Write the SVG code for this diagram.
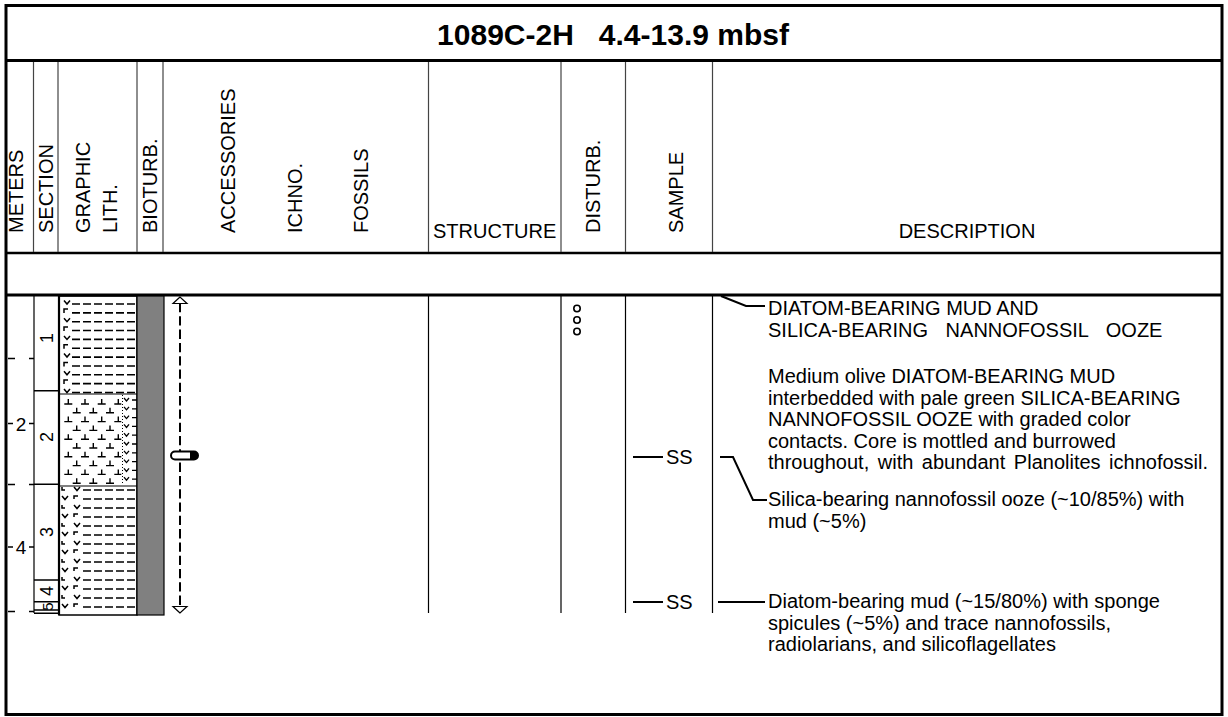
<svg xmlns="http://www.w3.org/2000/svg" width="1228" height="717" viewBox="0 0 1228 717">
<style>
.t{font-family:"Liberation Sans",Arial,sans-serif;font-size:20px;fill:#000}
.ttl{font-size:30px;font-weight:bold}
.num{font-size:19px}
.sec{font-size:18px}
.k{stroke:#000;fill:none}
.g{stroke:#444;stroke-width:1.2;fill:none}
.ar{fill:#fff;stroke:#000;stroke-width:1.2}
</style>
<rect width="1228" height="717" fill="#fff"/>
<g id="frame">
<rect x="6" y="5.5" width="1216" height="709" class="k" stroke-width="3"/>
<line x1="6" y1="60.5" x2="1222" y2="60.5" class="k" stroke-width="3"/>
<line x1="6" y1="253" x2="1222" y2="253" class="k" stroke-width="2.5"/>
<line x1="6" y1="295" x2="1222" y2="295" class="k" stroke-width="3"/>
<path class="g" d="M33.5 62V252M58 62V252M137 62V252M163 62V252M428.5 62V252M561 62V252M625.5 62V252M712.5 62V252"/>
<path class="k" stroke-width="1.2" d="M34 296V613M428.5 296V613M561 296V613M625.5 296V613M712.5 296V613"/>
</g>
<g id="title"><text class="t ttl" x="613" y="45" text-anchor="middle" xml:space="preserve">1089C-2H   4.4-13.9 mbsf</text></g>
<g id="headers">
<text class="t" transform="translate(23,233) rotate(-90)">METERS</text>
<text class="t" transform="translate(53,233) rotate(-90)">SECTION</text>
<text class="t" transform="translate(90,233) rotate(-90)">GRAPHIC</text>
<text class="t" transform="translate(116.7,233) rotate(-90)">LITH.</text>
<text class="t" transform="translate(156.7,233) rotate(-90)">BIOTURB.</text>
<text class="t" transform="translate(235,233) rotate(-90)">ACCESSORIES</text>
<text class="t" transform="translate(301.7,233) rotate(-90)">ICHNO.</text>
<text class="t" transform="translate(368,233) rotate(-90)">FOSSILS</text>
<text class="t" x="433" y="238">STRUCTURE</text>
<text class="t" transform="translate(600,233) rotate(-90)">DISTURB.</text>
<text class="t" transform="translate(682.7,233) rotate(-90)">SAMPLE</text>
<text class="t" x="967" y="238" text-anchor="middle">DESCRIPTION</text>
</g>
<g id="meters">
<path class="k" stroke-width="1.5" d="M8 358.5H15M29 358.5H34M8 423.5H13M29 423.5H34M8 484.5H15M29 484.5H34M8 547H13M29 547H34M8 611.5H15M29 611.5H34"/>
<text class="t num" x="21" y="430.5" text-anchor="middle">2</text>
<text class="t num" x="21" y="554" text-anchor="middle">4</text>
</g>
<g id="sections">
<path class="k" stroke-width="1.5" d="M34 390.7H59M34 484.3H59M34 580H59M34 601.7H59M34 610H59M34 613.3H59"/>
<text class="t sec" text-anchor="middle" transform="translate(53,338) rotate(-90)">1</text>
<text class="t sec" text-anchor="middle" transform="translate(53,437) rotate(-90)">2</text>
<text class="t sec" text-anchor="middle" transform="translate(53,532) rotate(-90)">3</text>
<text class="t sec" text-anchor="middle" transform="translate(53,591) rotate(-90)">4</text>
<text class="t sec" text-anchor="middle" transform="translate(52.5,606.5) rotate(-90)" style="font-size:15px">5</text>
</g>
<g id="lithology">
<path class="k" stroke-width="1.6" stroke-dasharray="8 3" d="M72 304H137M72 312.85H137M72 321.7H137M72 330.55H137M72 339.4H137M72 348.25H137M72 357.1H137M72 365.95H137M72 374.8H137M72 383.65H137M72 392.5H137"/>
<path class="k" stroke-width="1.5" d="M64 300.5l3 3.5l3-3.5M64 313v-4h4M64 318.2l3 3.5l3-3.5M64 331v-4h4M64 335.9l3 3.5l3-3.5M64 348.7v-4h4M64 353.6l3 3.5l3-3.5M64 366.4v-4h4M64 371.3l3 3.5l3-3.5M64 384.1v-4h4M64 389l3 3.5l3-3.5"/>
<line x1="59" y1="394" x2="137" y2="394" class="k" stroke-width="1.2"/>
<path class="k" stroke-width="1.4" d="M64.3 404h8M68.3 404v-5M81 404h8M85 404v-5M97.7 404h8M101.7 404v-5M114.3 404h7M118.3 404v-5
M72.7 412.8h8M76.7 412.8v-5M89.3 412.8h8M93.3 412.8v-5M106 412.8h8M110 412.8v-5
M64.3 421.6h8M68.3 421.6v-5M81 421.6h8M85 421.6v-5M97.7 421.6h8M101.7 421.6v-5M114.3 421.6h7M118.3 421.6v-5
M72.7 430.4h8M76.7 430.4v-5M89.3 430.4h8M93.3 430.4v-5M106 430.4h8M110 430.4v-5
M64.3 439.2h8M68.3 439.2v-5M81 439.2h8M85 439.2v-5M97.7 439.2h8M101.7 439.2v-5M114.3 439.2h7M118.3 439.2v-5
M72.7 448h8M76.7 448v-5M89.3 448h8M93.3 448v-5M106 448h8M110 448v-5
M64.3 456.8h8M68.3 456.8v-5M81 456.8h8M85 456.8v-5M97.7 456.8h8M101.7 456.8v-5M114.3 456.8h7M118.3 456.8v-5
M72.7 465.6h8M76.7 465.6v-5M89.3 465.6h8M93.3 465.6v-5M106 465.6h8M110 465.6v-5
M64.3 474.4h8M68.3 474.4v-5M81 474.4h8M85 474.4v-5M97.7 474.4h8M101.7 474.4v-5M114.3 474.4h7M118.3 474.4v-5
M72.7 483.2h8M76.7 483.2v-5M89.3 483.2h8M93.3 483.2v-5M106 483.2h8M110 483.2v-5"/>
<line x1="122.5" y1="395" x2="122.5" y2="485" class="k" stroke-width="1" stroke-dasharray="1 2"/>
<path class="k" stroke-width="1.3" d="M124 398l2.5 3l2.5-3M132 400h5M124 406.8l2.5 3l2.5-3M132 408.8h5M124 415.6l2.5 3l2.5-3M132 417.6h5M124 424.4l2.5 3l2.5-3M132 426.4h5M124 433.2l2.5 3l2.5-3M132 435.2h5M124 442l2.5 3l2.5-3M132 444h5M124 450.8l2.5 3l2.5-3M132 452.8h5M124 459.6l2.5 3l2.5-3M132 461.6h5M124 468.4l2.5 3l2.5-3M132 470.4h5M124 477.2l2.5 3l2.5-3M132 479.2h5"/>
<line x1="59" y1="486" x2="137" y2="486" class="k" stroke-width="1.2"/>
<path class="k" stroke-width="1.6" stroke-dasharray="8 3" d="M83 490H137M83 499H137M83 508H137M83 517H137M83 526H137M83 535H137M83 544H137M83 553H137M83 562H137M83 571H137M83 580H137M83 589H137M83 598H137M83 607H137"/>
<path class="k" stroke-width="1.5" d="M62 487v3h3M74 487l3 3.5l3-3.5M62 496l3 3.5l3-3.5M74 499v-3h4M62 505v3h3M74 505l3 3.5l3-3.5M62 514l3 3.5l3-3.5M74 517v-3h4M62 523v3h3M74 523l3 3.5l3-3.5M62 532l3 3.5l3-3.5M74 535v-3h4M62 541v3h3M74 541l3 3.5l3-3.5M62 550l3 3.5l3-3.5M74 553v-3h4M62 559v3h3M74 559l3 3.5l3-3.5M62 568l3 3.5l3-3.5M74 571v-3h4M62 577v3h3M74 577l3 3.5l3-3.5M62 586l3 3.5l3-3.5M74 589v-3h4M62 595v3h3M74 595l3 3.5l3-3.5M62 604l3 3.5l3-3.5M74 607v-3h4"/>
<rect x="59" y="296" width="78" height="319" class="k" stroke-width="1.5"/>
<line x1="59" y1="296" x2="59" y2="615" class="k" stroke-width="2.2"/>
</g>
<g id="bioturbation"><rect x="137" y="296" width="27" height="319" fill="#808080" stroke="#000" stroke-width="1.2"/></g>
<g id="accessories">
<line x1="180" y1="303" x2="180" y2="607" class="k" stroke-width="2" stroke-dasharray="9.3 4"/>
<polygon class="ar" points="180,297 173,303.5 187,303.5"/>
<polygon class="ar" points="180,613 173,606.5 187,606.5"/>
<rect x="171" y="451.5" width="27" height="8" rx="4" fill="#fff" stroke="#000" stroke-width="2"/>
<path d="M190 451.5h4a4 4 0 0 1 0 8h-4z" fill="#000"/>
</g>
<g id="disturbance">
<circle cx="577" cy="308.5" r="3.2" class="k" stroke-width="1.6"/>
<circle cx="577" cy="320" r="3.2" class="k" stroke-width="1.6"/>
<circle cx="577" cy="331.5" r="3.2" class="k" stroke-width="1.6"/>
</g>
<g id="samples">
<line x1="633" y1="457" x2="663" y2="457" class="k" stroke-width="2"/>
<text class="t" x="666" y="464">SS</text>
<line x1="633" y1="602" x2="663" y2="602" class="k" stroke-width="2"/>
<text class="t" x="666" y="609">SS</text>
</g>
<g id="connectors">
<path class="k" stroke-width="2" d="M721 296L746 306H765"/>
<path class="k" stroke-width="2" d="M720 457H733L753 500H767"/>
<path class="k" stroke-width="2" d="M718 602H765"/>
</g>
<g id="description">
<text class="t" x="768" y="315">DIATOM-BEARING MUD AND</text>
<text class="t" x="768" y="336.5" word-spacing="12">SILICA-BEARING NANNOFOSSIL OOZE</text>
<text class="t" x="768" y="383">Medium olive DIATOM-BEARING MUD</text>
<text class="t" x="768" y="404.5">interbedded with pale green SILICA-BEARING</text>
<text class="t" x="768" y="426">NANNOFOSSIL OOZE with graded color</text>
<text class="t" x="768" y="447.5">contacts. Core is mottled and burrowed</text>
<text class="t" x="768" y="469" word-spacing="3">throughout, with abundant Planolites ichnofossil.</text>
<text class="t" x="768" y="506">Silica-bearing nannofossil ooze (~10/85%) with</text>
<text class="t" x="768" y="527.5">mud (~5%)</text>
<text class="t" x="768" y="608">Diatom-bearing mud (~15/80%) with sponge</text>
<text class="t" x="768" y="629.5">spicules (~5%) and trace nannofossils,</text>
<text class="t" x="768" y="651">radiolarians, and silicoflagellates</text>
</g>
</svg>
